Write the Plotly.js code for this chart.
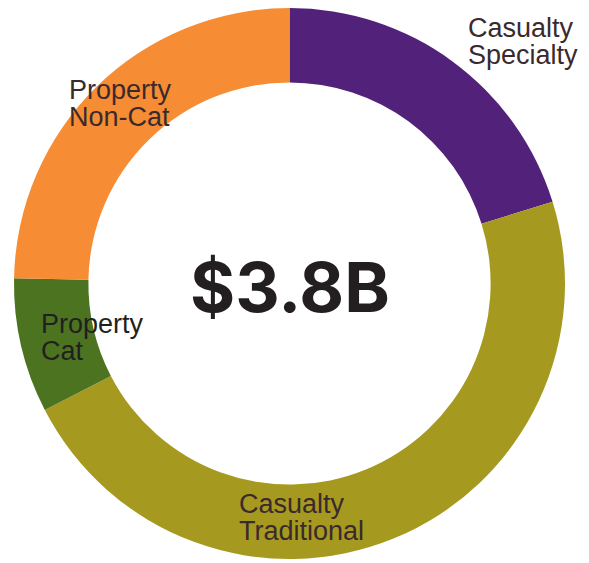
<!DOCTYPE html>
<html>
<head>
<meta charset="utf-8">
<script src="https://cdn.plot.ly/plotly-3.0.1.min.js"></script>
<style>html,body{margin:0;padding:0;background:#fff}#chart{width:589px;height:563px}</style>
</head>
<body>
<div id="chart"></div>
<script>
// Data (share of $3.8B total, %)
const categories = ["Casualty Specialty", "Casualty Traditional", "Property Cat", "Property Non-Cat"];
const shares = [20.2, 47.2, 7.9, 24.7];
const sliceColors = ["#52227B", "#A6991F", "#4B7320", "#F68C33"];
const labelLines = [["Casualty", "Specialty"], ["Casualty", "Traditional"], ["Property", "Cat"], ["Property", "Non-Cat"]];
const centerText = "$3.8B";

const W = 589, H = 563;
const px = x => x / W;
const py = y => 1 - y / H;

// label anchor positions (left edge x, first baseline y) in pixels
const labelPos = [[466, 37], [237, 513], [39, 333], [67, 99]];
const labelColors = ["#3B2A2D", "#3B2A2D", "#231F20", "#3B2A2D"];
const fs = 27, lineGap = 26.5;

const annotations = [];
categories.forEach((c, i) => {
  labelLines[i].forEach((t, j) => {
    const base = labelPos[i][1] + j * lineGap;
    annotations.push({
      text: t, showarrow: false, xref: "paper", yref: "paper",
      x: px(labelPos[i][0]), y: py(base - fs * 0.33),
      xanchor: "left", yanchor: "middle",
      font: {family: "Liberation Sans, Arial, sans-serif", size: fs, color: labelColors[i]}
    });
  });
});
annotations.push({
  text: centerText, showarrow: false, xref: "paper", yref: "paper",
  x: px(290), y: py(287), xanchor: "center", yanchor: "middle",
  font: {family: "Inter, sans-serif", size: 69, color: "#231F20", weight: 700}
});

const data = [{
  type: "pie",
  labels: categories,
  values: shares,
  hole: 0.73,
  sort: false,
  direction: "clockwise",
  rotation: 0,
  textinfo: "none",
  hoverinfo: "label+percent",
  marker: {colors: sliceColors, line: {width: 0}},
  domain: {x: [px(14), px(565)], y: [py(559), py(8)]}
}];

const layout = {
  width: W, height: H,
  margin: {l: 0, r: 0, t: 0, b: 0},
  showlegend: false,
  paper_bgcolor: "#ffffff",
  annotations: annotations
};

Plotly.newPlot("chart", data, layout, {displayModeBar: false, staticPlot: true});
</script>
</body>
</html>
